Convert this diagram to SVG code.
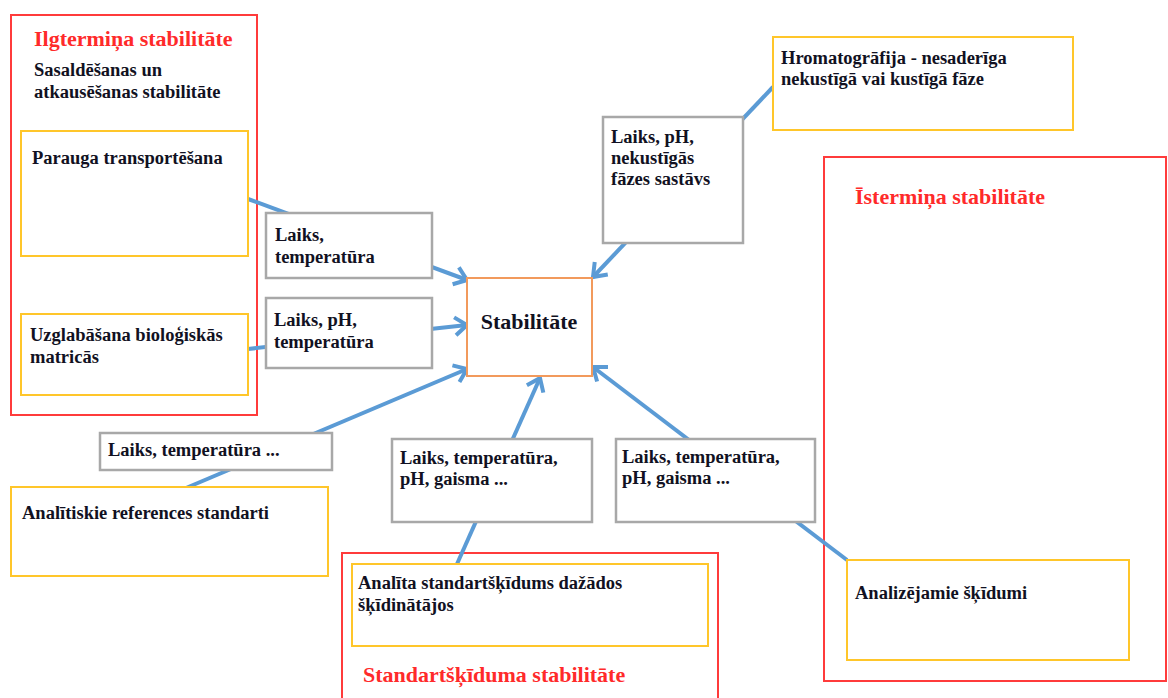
<svg xmlns="http://www.w3.org/2000/svg" width="1168" height="698" viewBox="0 0 1168 698">
<defs>
<style>
.t{font-family:"Liberation Serif","Times New Roman",serif;font-weight:bold;font-size:18.5px;fill:#111122}
.h{font-family:"Liberation Serif","Times New Roman",serif;font-weight:bold;font-size:22px;fill:#ff2a2a}
.red{fill:none;stroke:#ff3b3b;stroke-width:2}
.yel{fill:#fff;stroke:#ffc62a;stroke-width:2}
.gry{fill:#fff;stroke:#a8a8a8;stroke-width:2.5}
.org{fill:#fff;stroke:#f29a5c;stroke-width:2}
.con{stroke:#5b9bd5;stroke-width:4;fill:none}
</style>
<marker id="arr" markerUnits="userSpaceOnUse" markerWidth="24" markerHeight="24" refX="15" refY="12" orient="auto">
<path d="M3,3 L15,12 L3,21" fill="none" stroke="#5b9bd5" stroke-width="4" stroke-linejoin="miter"/>
</marker>
</defs>
<rect width="1168" height="698" fill="#fff"/>
<g id="containers">
<g id="ilgtermina"><rect class="red" x="11" y="15" width="246" height="400"/>
<text class="h" x="34" y="46">Ilgtermiņa stabilitāte</text>
<text class="t" x="34" y="76">Sasaldēšanas un</text>
<text class="t" x="34" y="98">atkausēšanas stabilitāte</text></g>
<g id="istermina"><rect class="red" x="824" y="157" width="342" height="524"/>
<text class="h" x="855" y="204">Īstermiņa stabilitāte</text></g>
<g id="standartskiduma"><rect class="red" x="342" y="553" width="376" height="160"/>
<text class="h" x="363" y="682">Standartšķīduma stabilitāte</text></g>
</g>
<g id="connectors">
<line class="con" x1="248" y1="199" x2="467" y2="280" marker-end="url(#arr)"/>
<line class="con" x1="248" y1="349" x2="467" y2="325" marker-end="url(#arr)"/>
<line class="con" x1="186" y1="488" x2="467" y2="369" marker-end="url(#arr)"/>
<line class="con" x1="457" y1="564" x2="540" y2="378" marker-end="url(#arr)"/>
<line class="con" x1="847" y1="560" x2="593" y2="367" marker-end="url(#arr)"/>
<line class="con" x1="773" y1="87" x2="593" y2="277" marker-end="url(#arr)"/>
</g>
<g id="parauga"><rect class="yel" x="21" y="131" width="227" height="125"/>
<text class="t" x="32" y="164">Parauga transportēšana</text></g>
<g id="uzglabasana"><rect class="yel" x="21" y="314" width="227" height="81"/>
<text class="t" x="30" y="341">Uzglabāšana bioloģiskās</text>
<text class="t" x="30" y="363">matricās</text></g>
<g id="lbl1"><rect class="gry" x="266" y="213" width="166" height="65"/>
<text class="t" x="275" y="241">Laiks,</text>
<text class="t" x="275" y="263">temperatūra</text></g>
<g id="lbl2"><rect class="gry" x="266" y="298" width="166" height="70"/>
<text class="t" x="274" y="326">Laiks, pH,</text>
<text class="t" x="274" y="348">temperatūra</text></g>
<g id="stabilitate"><rect class="org" x="467" y="278" width="125" height="98"/>
<text class="t" x="529" y="329" text-anchor="middle" style="font-size:22px">Stabilitāte</text></g>
<g id="hromatografija"><rect class="yel" x="773" y="37" width="300" height="93"/>
<text class="t" x="781" y="64">Hromatogrāfija - nesaderīga</text>
<text class="t" x="781" y="85">nekustīgā vai kustīgā fāze</text></g>
<g id="lbl6"><rect class="gry" x="603" y="117" width="140" height="126"/>
<text class="t" x="611" y="143">Laiks, pH,</text>
<text class="t" x="611" y="164">nekustīgās</text>
<text class="t" x="611" y="185">fāzes sastāvs</text></g>
<g id="lbl3"><rect class="gry" x="100" y="433" width="232" height="37"/>
<text class="t" x="108" y="456">Laiks, temperatūra ...</text></g>
<g id="analitiskie"><rect class="yel" x="11" y="487" width="317" height="89"/>
<text class="t" x="22" y="519">Analītiskie references standarti</text></g>
<g id="lbl4"><rect class="gry" x="392" y="439" width="200" height="83"/>
<text class="t" x="400" y="464">Laiks, temperatūra,</text>
<text class="t" x="400" y="485">pH, gaisma ...</text></g>
<g id="lbl5"><rect class="gry" x="616" y="439" width="199" height="83"/>
<text class="t" x="622" y="463">Laiks, temperatūra,</text>
<text class="t" x="622" y="484">pH, gaisma ...</text></g>
<g id="analita"><rect class="yel" x="352" y="564" width="356" height="82"/>
<text class="t" x="358" y="589">Analīta standartšķīdums dažādos</text>
<text class="t" x="358" y="611">šķīdinātājos</text></g>
<g id="analizejamie"><rect class="yel" x="847" y="560" width="282" height="100"/>
<text class="t" x="855" y="599">Analizējamie šķīdumi</text></g>
</svg>
